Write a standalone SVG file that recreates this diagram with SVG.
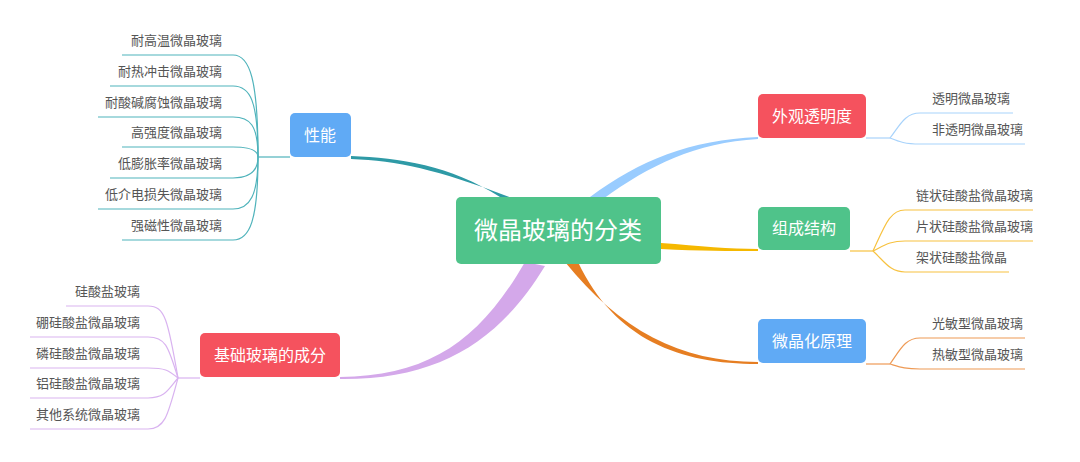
<svg xmlns="http://www.w3.org/2000/svg" width="1080" height="462" viewBox="0 0 1080 462">
<style>
.lf{font-family:"Noto Sans CJK SC","Liberation Sans",sans-serif;font-size:13px;fill:#555}
.nd{font-family:"Noto Sans CJK SC","Liberation Sans",sans-serif;fill:#fff;text-anchor:middle}
.ln{fill:none;stroke-width:1.2}
</style>
<rect width="1080" height="462" fill="#fff"/>
<g id="connectors">
<path d="M500,197 C450,165 400,158 351,156 L351,159 C400,161 440,170 520,201 Z" fill="#2e9aa6"/>
<path d="M525,262 C480,340 430,376 340,377 L340,379 C440,380 500,340 545,266 Z" fill="#d4a8ea"/>
<path d="M590,197 C640,160 690,140 758,137 L758,139 C695,143 650,165 603,199 Z" fill="#99ccff"/>
<path d="M661,243 C700,246 730,249 758,249 L758,251 C730,251 700,251 661,249 Z" fill="#f5b800"/>
<path d="M565,262 C620,330 680,362 758,362 L758,364 C680,364 615,340 578,262 Z" fill="#e67e22"/>
<g class="ln" stroke="#4fb3bb">
<path d="M258,157 H270"/>
<path d="M258,157 C258,80 250,55 233,55 H122"/>
<path d="M258,157 C258,100 250,86 233,86 H110"/>
<path d="M258,157 C258,125 250,117 233,117 H98"/>
<path d="M258,157 C258,150 250,147 233,147 H122"/>
<path d="M258,157 C258,170 250,178 233,178 H110"/>
<path d="M258,157 C258,195 250,209 233,209 H98"/>
<path d="M258,157 C258,220 250,240 233,240 H122"/>
<path d="M270,157 H290"/>
</g>
<g class="ln" stroke="#d9b3f0">
<path d="M178,378 H200"/>
<path d="M178,378 C168,320 165,306 148,306 H66"/>
<path d="M178,378 C168,345 165,337 148,337 H30"/>
<path d="M178,378 C168,370 165,368 148,368 H30"/>
<path d="M178,378 C168,390 165,398 148,398 H30"/>
<path d="M178,378 C168,415 165,429 148,429 H30"/>
</g>
<g class="ln" stroke="#a8d3fb">
<path d="M866,138 H890"/>
<path d="M890,138 C900,125 905,113 920,113 H1013"/>
<path d="M890,138 C900,142 905,144 920,144 H1025"/>
</g>
<g class="ln" stroke="#f7c240">
<path d="M850,251 H873"/>
<path d="M873,251 C885,225 890,210 905,210 H1033"/>
<path d="M873,251 C885,245 890,241 905,241 H1033"/>
<path d="M873,251 C885,262 890,272 905,272 H1009"/>
</g>
<g class="ln" stroke="#ee9a55">
<path d="M866,364 H890"/>
<path d="M890,364 C900,350 905,338 920,338 H1025"/>
<path d="M890,364 C900,367 905,369 920,369 H1025"/>
</g>
</g>
<g id="center"><rect x="456" y="197" width="205" height="67" rx="5" fill="#4fc38a"/><text class="nd" x="558" y="239" font-size="24">微晶玻璃的分类</text></g>
<g id="xingneng"><rect x="290" y="113" width="61" height="44" rx="5" fill="#60aaf5"/><text class="nd" x="320" y="141" font-size="16">性能</text></g>
<g id="jichu"><rect x="200" y="333" width="140" height="44" rx="5" fill="#f5525e"/><text class="nd" x="270" y="361" font-size="16">基础玻璃的成分</text></g>
<g id="waiguan"><rect x="758" y="94" width="108" height="44" rx="5" fill="#f5525e"/><text class="nd" x="812" y="122" font-size="16">外观透明度</text></g>
<g id="zucheng"><rect x="758" y="207" width="92" height="43" rx="5" fill="#4fc38a"/><text class="nd" x="804" y="234" font-size="16">组成结构</text></g>
<g id="weijing"><rect x="758" y="319" width="108" height="44" rx="5" fill="#60aaf5"/><text class="nd" x="812" y="347" font-size="16">微晶化原理</text></g>
<g id="leaves-left" text-anchor="end">
<text class="lf" x="222" y="45">耐高温微晶玻璃</text>
<text class="lf" x="222" y="76">耐热冲击微晶玻璃</text>
<text class="lf" x="222" y="107">耐酸碱腐蚀微晶玻璃</text>
<text class="lf" x="222" y="137">高强度微晶玻璃</text>
<text class="lf" x="222" y="168">低膨胀率微晶玻璃</text>
<text class="lf" x="222" y="199">低介电损失微晶玻璃</text>
<text class="lf" x="222" y="230">强磁性微晶玻璃</text>
<text class="lf" x="140" y="296">硅酸盐玻璃</text>
<text class="lf" x="140" y="327">硼硅酸盐微晶玻璃</text>
<text class="lf" x="140" y="358">磷硅酸盐微晶玻璃</text>
<text class="lf" x="140" y="388">铝硅酸盐微晶玻璃</text>
<text class="lf" x="140" y="419">其他系统微晶玻璃</text>
</g>
<g id="leaves-right">
<text class="lf" x="932" y="103">透明微晶玻璃</text>
<text class="lf" x="932" y="134">非透明微晶玻璃</text>
<text class="lf" x="916" y="200">链状硅酸盐微晶玻璃</text>
<text class="lf" x="916" y="231">片状硅酸盐微晶玻璃</text>
<text class="lf" x="916" y="262">架状硅酸盐微晶</text>
<text class="lf" x="932" y="328">光敏型微晶玻璃</text>
<text class="lf" x="932" y="359">热敏型微晶玻璃</text>
</g>
</svg>
